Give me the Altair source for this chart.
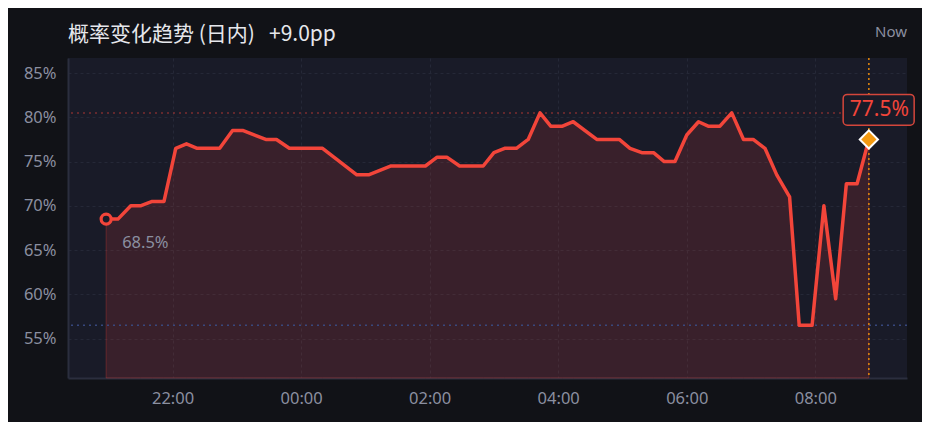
import altair as alt
import pandas as pd

# ---- data ----
times = ["20:58", "21:09", "21:21", "21:30", "21:41", "21:52", "22:03", "22:13", "22:23", "22:44",
         "22:56", "23:06", "23:27", "23:37", "23:49", "00:20", "00:52", "01:03", "01:24", "01:56",
         "02:07", "02:16", "02:28", "02:50", "03:00", "03:10", "03:21", "03:32", "03:43", "03:53",
         "04:04", "04:14", "04:36", "04:57", "05:07", "05:18", "05:29", "05:39", "05:49", "06:00",
         "06:11", "06:20", "06:31", "06:42", "06:53", "07:02", "07:13", "07:24", "07:36", "07:45",
         "07:57", "08:08", "08:19", "08:29", "08:39", "08:50"]
values = [68.5, 68.5, 70.0, 70.0, 70.5, 70.5, 76.5, 77.0, 76.5, 76.5,
          78.5, 78.5, 77.5, 77.5, 76.5, 76.5, 73.5, 73.5, 74.5, 74.5,
          75.5, 75.5, 74.5, 74.5, 76.0, 76.5, 76.5, 77.5, 80.5, 79.0,
          79.0, 79.5, 77.5, 77.5, 76.5, 76.0, 76.0, 75.0, 75.0, 78.0,
          79.5, 79.0, 79.0, 80.5, 77.5, 77.5, 76.5, 73.5, 71.0, 56.5,
          56.5, 70.0, 59.5, 72.5, 72.5, 77.5]
y_ticks = [55, 60, 65, 70, 75, 80, 85]
x_tick_hours = [("2024-05-01", 22), ("2024-05-02", 0), ("2024-05-02", 2),
                ("2024-05-02", 4), ("2024-05-02", 6), ("2024-05-02", 8)]
y_domain = [50.55, 86.7]

title_text = "概率变化趋势 (日内)"
now_text = "Now"


def stamp(hm):
    day = "2024-05-01" if int(hm[:2]) >= 12 else "2024-05-02"
    return pd.Timestamp(f"{day}T{hm}:00")


def to_dt(ts):
    return alt.DateTime(year=ts.year, month=ts.month, date=ts.day,
                        hours=ts.hour, minutes=ts.minute, seconds=ts.second)


df = pd.DataFrame({"t": [stamp(h) for h in times], "v": values})
first = df.iloc[[0]].copy()
last = df.iloc[[-1]].copy()
first["label"] = f"{values[0]:.1f}%"
last["label"] = f"{values[-1]:.1f}%"
change = values[-1] - values[0]
NBSP = "\u00a0"
full_title = f"{title_text}{NBSP * 3}{change:+.1f}pp"

pad = (df["t"].iloc[-1] - df["t"].iloc[0]) * 0.05
x_dom = [to_dt((df["t"].iloc[0] - pad).floor("s")), to_dt((df["t"].iloc[-1] + pad).floor("s"))]
x_vals = [to_dt(pd.Timestamp(f"{d}T{h:02d}:00:00")) for d, h in x_tick_hours]

RED = "#f2453a"
BG = "#111217"
PLOT_BG = "#191b28"
FONT = "Noto Sans"

x_enc = alt.X("t:T", title=None,
              scale=alt.Scale(domain=x_dom, nice=False),
              axis=alt.Axis(values=x_vals, format="%H:%M", labelAlign="center"))
y_enc = alt.Y("v:Q", title=None,
              scale=alt.Scale(domain=y_domain, nice=False, zero=False),
              axis=alt.Axis(values=y_ticks, labelExpr="datum.value + '%'"))

base = alt.Chart(df)

area = base.mark_area(fill=RED, fillOpacity=0.15, stroke=RED, strokeOpacity=0.28,
                      strokeWidth=1).encode(x=x_enc, y=y_enc, y2=alt.datum(y_domain[0]))

max_rule = alt.Chart(pd.DataFrame({"v": [max(values)]})).mark_rule(
    color=RED, strokeOpacity=0.45, strokeDash=[2, 4], strokeWidth=1.5).encode(y="v:Q")
min_rule = alt.Chart(pd.DataFrame({"v": [min(values)]})).mark_rule(
    color="#3a4d86", strokeOpacity=0.9, strokeDash=[2, 4], strokeWidth=1.5).encode(y="v:Q")

line = base.mark_line(color=RED, strokeWidth=3.5, strokeJoin="round",
                      strokeCap="round").encode(x=x_enc, y=y_enc)

now_rule = alt.Chart(last).mark_rule(color="#e8890c", strokeDash=[2, 3],
                                     strokeWidth=1.5).encode(x="t:T")

start_pt = alt.Chart(first).mark_point(shape="circle", size=100, filled=False, fill=PLOT_BG,
                                       fillOpacity=1, stroke=RED, strokeWidth=3.2,
                                       opacity=1).encode(x="t:T", y="v:Q")
start_lbl = alt.Chart(first).mark_text(align="left", baseline="alphabetic", dx=16, dy=29,
                                       color="#8b8fa0", font=FONT, fontSize=16.5).encode(
    x="t:T", y="v:Q", text="label:N")

end_box = alt.Chart(last).mark_rect(fill=PLOT_BG, stroke="#d4463b", strokeWidth=1.5,
                                    cornerRadius=4, xOffset=-25.7, x2Offset=45.3,
                                    yOffset=-45, y2Offset=-14.3).encode(
    x="t:T", x2="t:T", y="v:Q", y2="v:Q")
end_lbl = alt.Chart(last).mark_text(align="center", baseline="alphabetic", dx=10.5, dy=-23.3,
                                    color=RED, font=FONT, fontSize=21).encode(
    x="t:T", y="v:Q", text="label:N")
end_pt = alt.Chart(last).mark_point(shape="diamond", size=330, filled=True, fill="#f39a11",
                                    stroke="white", strokeWidth=2, opacity=1).encode(
    x="t:T", y="v:Q")

now_lbl = alt.Chart(pd.DataFrame({"label": [now_text]})).mark_text(
    align="right", baseline="alphabetic", color="#8b8fa0", font=FONT, fontSize=15).encode(
    x=alt.value(839), y=alt.value(-21.5), text="label:N")

title_lbl = alt.Chart(pd.DataFrame({"label": [full_title]})).mark_text(
    align="left", baseline="alphabetic", color="#e6e7ec",
    font="Noto Sans CJK SC", fontSize=21).encode(
    x=alt.value(0), y=alt.value(-17.3), text="label:N")

chart = alt.layer(area, max_rule, min_rule, line, now_rule, start_pt, start_lbl,
                  end_box, end_lbl, end_pt, now_lbl, title_lbl).properties(
    width=839, height=320,
    padding={"left": 60, "top": 50, "right": 15, "bottom": 44},
    autosize=alt.AutoSizeParams(type="none"),
    background=BG,
).configure_view(fill=PLOT_BG, strokeWidth=0).configure_axis(
    domainColor="#2b2e3e", domainWidth=2, gridColor="#252837", gridDash=[3, 3],
    gridWidth=1, ticks=False, tickSize=0, labelColor="#8b8fa0", labelFont=FONT,
    labelFontSize=16.5, labelPadding=12)

chart.save("out.html", embed_options={"renderer": "svg", "actions": False})
